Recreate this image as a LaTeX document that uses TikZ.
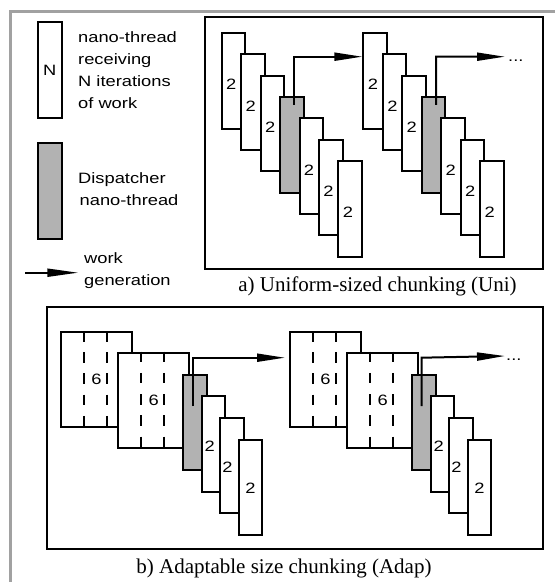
\documentclass[tikz,border=0pt]{standalone}
\usepackage{fontspec}
\setmainfont{Liberation Serif}
\newfontfamily\labelfont[FakeStretch=1.22]{Liberation Sans}
\usetikzlibrary{arrows.meta, positioning}

\begin{document}
\begin{tikzpicture}[x=1pt, y=-1pt]
        % Define styles
        \tikzset{
            thread/.style={draw, line width=2pt, fill=white, inner sep=0pt,
                minimum width=23.6pt, minimum height=95.7pt, anchor=north west},
            dispatch/.style={thread, fill=black!30},
            bigthread/.style={thread, minimum width=70.7pt, minimum height=95pt},
            iter/.style={font=\labelfont\fontsize{15}{22}\selectfont, inner sep=0pt},
            legend/.style={iter, align=left, anchor=west},
            caption/.style={font=\fontsize{21}{24}\selectfont, inner sep=0pt},
            panel/.style={draw, line width=2pt},
            workgen/.style={-{Triangle[length=28pt, width=8pt]}, line width=2pt},
            cut/.style={line width=2pt, dash pattern=on 10.5pt off 10.7pt}
        }
        \useasboundingbox (0,0) rectangle (555,582);
        % Grey page edge
        \draw[line width=3pt, black!37] (10,582) -- (10,11) -- (555,11);
        % Legend
        \node[thread] (lgn) at (37,21) {};
        \node[iter] (lgnn) at (lgn.center) {N};
        \node[legend] (lgntext) at (78,70) {nano-thread\\receiving\\N iterations\\of work};
        \node[dispatch] (lgd) at (37,142) {};
        \node[legend] (lgdtext) at (78,189.5) {Dispatcher\\\hspace*{1.5pt}nano-thread};
        \coordinate (lgastart) at (25,272.7);
        \coordinate (lgaend) at (78.3,272.7);
        \draw[workgen, -{Triangle[length=31pt, width=8pt]}] (lgastart) -- (lgaend);
        \node[legend] (lgatext) at (84,270.5) {work\\generation};
        % a) Uniform-sized chunking
        \draw[panel] (205,17) rectangle (543,269);
        \foreach \g/\gx in {1/0, 2/141.7} {
            \foreach \i in {0,...,6} {
                \ifnum\i=3
                    \node[dispatch] (u\g\i) at (220.7+\gx+19.45*\i, 32+21.33*\i) {};
                \else
                    \node[thread] (u\g\i) at (220.7+\gx+19.45*\i, 32+21.33*\i) {};
                    \node[iter] (un\g\i) at ([xshift=10.5pt, yshift=-52.5pt]u\g\i.north west) {2};
                \fi
            }
        }
        % work generation arrows
        \coordinate (ua1) at ([xshift=15.3pt, yshift=39.3pt]u13.north west);
        \draw[workgen] ([xshift=15.3pt, yshift=-9pt]u13.north west) -- (ua1) -- (ua1 -| u20.west);
        \coordinate (ua2) at ([xshift=15.3pt, yshift=39.3pt]u23.north west);
        \coordinate (ua2end) at (505,56.7);
        \draw[workgen] ([xshift=15.3pt, yshift=-9pt]u23.north west) -- (ua2) -- (ua2end);
        \node[iter, right=3pt of ua2end, yshift=-4pt] (udots) {...};
        \node[caption] (ucap) at (377.5,286) {a) Uniform-sized chunking (Uni)};
        % b) Adaptable size chunking
        \draw[panel] (46.7,307.3) rectangle (543.3,549);
        \foreach \g/\gx in {1/0, 2/229} {
            \node[bigthread] (a\g1) at (60+\gx,331) {};
            \node[bigthread] (a\g2) at (117.3+\gx,351.7) {};
            \foreach \n in {1,2} {
                \draw[cut] ([xshift=23.57pt]a\g\n.north west) -- ([xshift=23.57pt]a\g\n.south west);
                \draw[cut] ([xshift=47.13pt]a\g\n.north west) -- ([xshift=47.13pt]a\g\n.south west);
                \node[iter, fill=white, inner sep=1pt] (an\g\n) at (a\g\n.center) {6};
            }
            \node[dispatch] (a\g3) at (182.3+\gx,373.7) {};
            \node[thread] (a\g4) at (200.7+\gx,395) {};
            \node[thread] (a\g5) at (219+\gx,416.7) {};
            \node[thread] (a\g6) at (237.7+\gx,438.6) {};
            \node[iter] (an\g4) at ([xshift=9pt, yshift=-51pt]a\g4.north west) {2};
            \node[iter] (an\g5) at ([xshift=8.5pt, yshift=-51pt]a\g5.north west) {2};
            \node[iter] (an\g6) at ([yshift=-1pt]a\g6.center) {2};
        }
        \coordinate (ab1) at ([xshift=10.4pt, yshift=16pt]a13.north west);
        \draw[workgen] ([xshift=10.4pt, yshift=-32.3pt]a13.north west) -- (ab1) -- ([xshift=-4pt]ab1 -| a21.west);
        \coordinate (ab2) at ([xshift=10.4pt, yshift=16pt]a23.north west);
        \coordinate (ab2end) at (505,356);
        \draw[workgen] ([xshift=10.4pt, yshift=-32.3pt]a23.north west) -- (ab2) -- (ab2end);
        \node[iter, right=1pt of ab2end, yshift=-4pt] (adots) {...};
        \node[caption] (acap) at (284,568) {b) Adaptable size chunking (Adap)};
    \end{tikzpicture}
\end{document}
